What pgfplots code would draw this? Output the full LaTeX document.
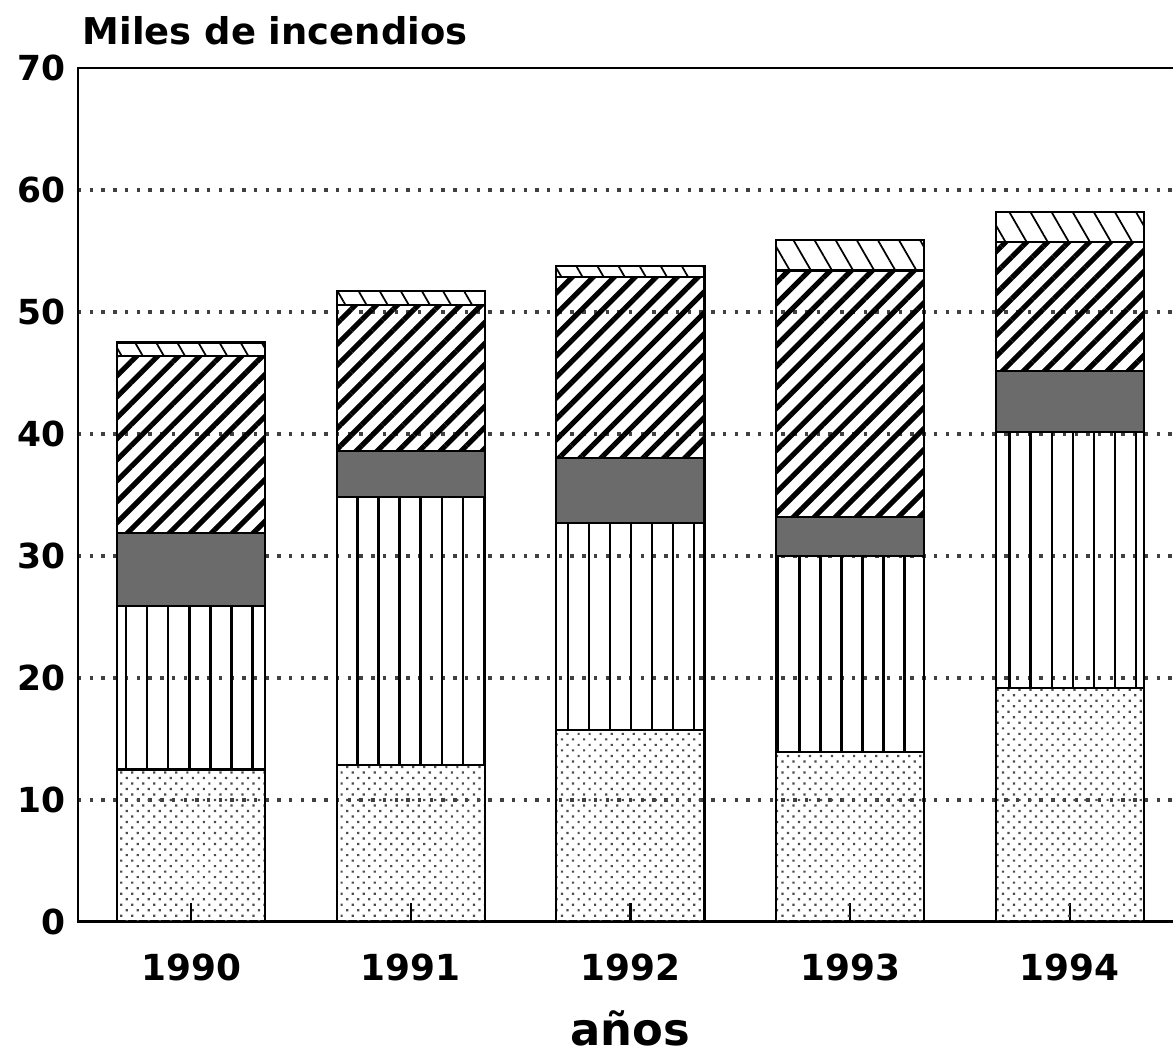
\documentclass[border=0pt]{standalone}
\usepackage{fontspec}
\setmainfont{DejaVu Sans}
\usepackage{pgfplots}
\usepackage{pgfplotstable}
\pgfplotsset{compat=1.18}
\usetikzlibrary{patterns.meta}
\pgfplotsset{layers/mylayers/.define layer set={axis background,axis grid,main,axis ticks,axis lines,axis tick labels,axis descriptions,axis foreground}{}}

\pgfplotstableread{
x a b c d e
0 12.5 13.4 6.0 14.5 1.1
1 12.9 21.9 3.8 12.0 1.1
2 15.7 17.0 5.3 14.9 0.9
3 13.9 16.1 3.2 20.2 2.5
4 19.2 21.0 5.0 10.5 2.5
}\datatable

\begin{document}
\begin{tikzpicture}
\begin{axis}[
  set layers=mylayers,
  scale only axis, width=319.3pt, height=247.66pt,
  xmin=-0.515, xmax=4.497, ymin=0, ymax=70,
  ybar stacked, bar width=0.674,
  xtick={0,1,2,3,4}, xticklabels={1990,1991,1992,1993,1994},
  ytick={10,20,...,60},
  extra y ticks={0,70},
  extra y tick style={grid=none},
  ymajorgrids,
  grid style={black!75, line width=0.9pt, dash pattern=on 1pt off 2.4pt},
  ytick style={draw=none},
  xtick style={black, line width=0.6pt},
  xtick pos=bottom, xtick align=inside, major tick length=5.5pt,
  axis line style={line width=0.7pt},
  tick label style={font=\bfseries\fontsize{10.4}{12}\selectfont},
  yticklabel style={font=\bfseries\fontsize{10}{12}\selectfont},
  xticklabel style={yshift=-5.6pt},
  /pgf/number format/assume math mode=true,
]
\addplot[draw=black, line width=0.6pt, pattern={Dots[distance=2.26pt, radius=0.45pt, angle=45]}, pattern color=black!70] table[x=x,y=a]{\datatable};
\addplot[draw=black, line width=0.6pt, pattern={Lines[angle=90, distance=6.1pt, line width=0.7pt]}] table[x=x,y=b]{\datatable};
\addplot[draw=black, line width=0.6pt, fill=black!58] table[x=x,y=c]{\datatable};
\addplot[draw=black, line width=0.6pt, pattern={Lines[angle=45, distance=4.3pt, line width=1.5pt]}] table[x=x,y=d]{\datatable};
\addplot[draw=black, line width=0.6pt, pattern={Lines[angle=-60, distance=5.3pt, line width=0.5pt]}] table[x=x,y=e]{\datatable};
\draw[line width=1.1pt] (rel axis cs:0,0) -- (rel axis cs:1,0);
\end{axis}
\node[anchor=base west, inner sep=0pt, font=\bfseries\fontsize{10.7}{12}\selectfont] at (1.2pt,254.4pt) {Miles de incendios};
\node[anchor=base, font=\bfseries\fontsize{13}{15}\selectfont] at (160.1pt,-35.7pt) {años};
\pgfresetboundingbox
\path (-22.62pt,-39.73pt) rectangle (317.55pt,267.38pt);
\end{tikzpicture}
\end{document}
